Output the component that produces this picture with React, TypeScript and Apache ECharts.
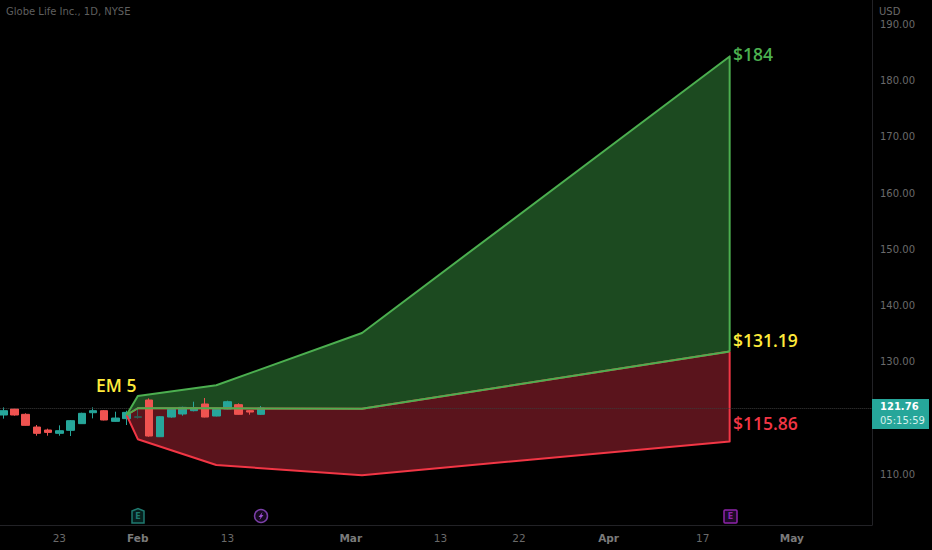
import React, { useEffect, useRef } from "react";
import * as echarts from "echarts";

const tradingDays = [
  "Jan 13", "Jan 17", "Jan 18", "Jan 19", "Jan 20", "Jan 23", "Jan 24", "Jan 25",
  "Jan 26", "Jan 27", "Jan 30", "Jan 31", "Feb 1", "Feb 2", "Feb 3", "Feb 6",
  "Feb 7", "Feb 8", "Feb 9", "Feb 10", "Feb 13", "Feb 14", "Feb 15", "Feb 16",
];
const futureBarCount = 54;
// [open, close, low, high]
const candles = [
  [120.5, 121.27, 119.85, 121.86],
  [121.57, 120.5, 120.38, 121.68],
  [120.62, 118.66, 118.6, 120.8],
  [118.36, 117.24, 116.82, 118.72],
  [117.83, 117.41, 116.82, 118.07],
  [117.24, 117.71, 116.82, 118.66],
  [117.77, 119.49, 116.76, 119.61],
  [118.96, 120.8, 118.9, 120.91],
  [120.91, 121.27, 119.9, 121.86],
  [121.27, 119.61, 119.55, 121.39],
  [119.37, 119.96, 119.31, 121.09],
  [119.85, 120.97, 118.72, 121.27],
  [120.08, 120.2, 119.85, 121.68],
  [123.17, 116.76, 116.64, 123.46],
  [116.64, 120.2, 116.58, 120.32],
  [120.14, 121.51, 120.02, 121.62],
  [120.68, 121.86, 120.38, 121.98],
  [121.27, 121.8, 121.15, 122.87],
  [122.46, 120.14, 120.08, 123.52],
  [120.32, 121.51, 120.26, 121.62],
  [121.57, 122.87, 121.5, 123.05],
  [122.34, 120.62, 120.56, 122.57],
  [121.27, 121.03, 120.56, 121.39],
  [120.62, 121.74, 120.5, 122.1],
];
const emBars = [11, 12, 19, 32, 64.8];
const emUpper = [120.5, 123.9, 125.8, 135.1, 184.3];
const emMiddle = [120.5, 121.7, 121.7, 121.6, 131.8];
const emLower = [120.5, 116.2, 111.6, 109.8, 115.8];
const lastPrice = 121.76;
const countdown = "05:15:59";
const priceTicks = [110, 120, 130, 140, 150, 160, 170, 180, 190];
const timeTickBars = [5, 12, 20, 31, 39, 46, 54, 62.4, 70.35];
const timeTickLabels = ["23", "Feb", "13", "Mar", "13", "22", "Apr", "17", "May"];
const monthLabels = ["Feb", "Mar", "Apr", "May"];
const title = "Globe Life Inc., 1D, NYSE";
const annotations: [number, number, string, string][] = [
  [65.1, 183.1, "$184", "#4caf50"],
  [65.1, 132.2, "$131.19", "#ffeb3b"],
  [65.1, 117.4, "$115.86", "#f23645"],
  [8.27, 124.2, "EM 5", "#ffeb3b"],
];

const FONT = "'DejaVu Sans', sans-serif";
const NOTE_FONT = "'Open Sans', sans-serif";
const GREEN = "#4caf50";
const RED = "#f23645";
const UP = "#26a69a";
const DOWN = "#ef5350";
// The chart is wider than the page, so the first candle's band can start left of the page edge.
const PAD = 20;

function polygonItem(upper: number[], lower: number[], fill: string) {
  return {
    type: "custom",
    xAxisIndex: 1,
    z: 1,
    silent: true,
    data: [0],
    renderItem: (_p: any, api: any) => {
      const pts: number[][] = [];
      emBars.forEach((b, i) => pts.push(api.coord([b, upper[i]])));
      for (let i = emBars.length - 1; i >= 0; i--) pts.push(api.coord([emBars[i], lower[i]]));
      return { type: "polygon", shape: { points: pts }, style: { fill, stroke: "none" } };
    },
  };
}

function edgeItem(line: number[], color: string, closeTo: number[] | null, z: number) {
  return {
    type: "custom",
    xAxisIndex: 1,
    z,
    silent: true,
    data: [0],
    renderItem: (_p: any, api: any) => {
      const pts: number[][] = emBars.map((b, i) => api.coord([b, line[i]]));
      if (closeTo) pts.push(api.coord([emBars[emBars.length - 1], closeTo[closeTo.length - 1]]));
      return {
        type: "polyline",
        shape: { points: pts },
        style: { fill: "none", stroke: color, lineWidth: 2, lineJoin: "round" },
      };
    },
  };
}

export default function App() {
  const ref = useRef<HTMLDivElement>(null);
  useEffect(() => {
    if (!ref.current) return;
    const chart = echarts.init(ref.current, undefined, { renderer: "svg" });
    const categories = [
      ...tradingDays,
      ...Array.from({ length: futureBarCount }, (_, i) => `+${i + 1}`),
    ];
    chart.setOption({
      animation: false,
      backgroundColor: "#000000",
      textStyle: { fontFamily: FONT },
      grid: { left: PAD - 2.3, top: 0, width: 874.3, height: 525, containLabel: false },
      xAxis: [
        {
          type: "category",
          data: categories,
          boundaryGap: true,
          axisLine: { show: false },
          axisTick: { show: false },
          axisLabel: { show: false },
          splitLine: { show: false },
        },
        {
          type: "value",
          position: "bottom",
          min: -0.5,
          max: 77.5,
          axisLine: { show: true, onZero: false, lineStyle: { color: "#222226", width: 1 } },
          axisTick: { show: false },
          splitLine: { show: false },
          axisLabel: {
            show: true,
            customValues: timeTickBars,
            margin: 7,
            fontSize: 10.5,
            color: "#6a6a6a",
            fontFamily: FONT,
            formatter: (v: number) => {
              const label = timeTickLabels[timeTickBars.indexOf(v)] ?? "";
              return monthLabels.includes(label) ? `{m|${label}}` : label;
            },
            rich: { m: { fontSize: 10.5, fontWeight: "bold", color: "#7a7a7a", fontFamily: FONT } },
          },
        },
      ],
      yAxis: {
        type: "value",
        position: "right",
        min: 100.93,
        max: 194.34,
        axisLine: { show: true, onZero: false, lineStyle: { color: "#222226", width: 1 } },
        axisTick: { show: false },
        splitLine: { show: false },
        axisLabel: {
          show: true,
          customValues: priceTicks,
          inside: false,
          margin: 8,
          fontSize: 10,
          color: "#6a6a6a",
          fontFamily: FONT,
          formatter: (v: number) => v.toFixed(2),
        },
      },
      series: [
        polygonItem(emUpper, emMiddle, "#1c4a20"),
        polygonItem(emMiddle, emLower, "#5a141c"),
        {
          type: "candlestick",
          xAxisIndex: 0,
          z: 3,
          barWidth: 8,
          silent: true,
          data: candles.map((c, i) =>
            i === 12
              ? {
                  value: c,
                  itemStyle: { color: "#2f5f56", color0: "#2f5f56", borderColor: "#2f5f56", borderColor0: "#2f5f56" },
                }
              : c
          ),
          itemStyle: { color: UP, color0: DOWN, borderColor: UP, borderColor0: DOWN, borderWidth: 1 },
          markLine: {
            silent: true,
            symbol: "none",
            label: { show: false },
            lineStyle: { color: "#3c3c3c", type: "dotted", width: 1 },
            data: [{ yAxis: lastPrice }],
          },
        },
        edgeItem(emLower, RED, emMiddle, 4),
        edgeItem(emMiddle, RED, null, 4),
        edgeItem(emMiddle, GREEN, null, 5),
        edgeItem(emUpper, GREEN, emMiddle, 5),
        {
          type: "custom",
          xAxisIndex: 1,
          z: 6,
          silent: true,
          data: annotations.map((a, i) => i),
          renderItem: (params: any, api: any) => {
            const [bar, price, text, color] = annotations[params.dataIndex];
            const [x, y] = api.coord([bar, price]);
            return {
              type: "text",
              x,
              y,
              style: { text, fill: color, font: `600 17.5px ${NOTE_FONT}`, textAlign: "left", textVerticalAlign: "bottom" },
            };
          },
        },
        {
          type: "custom",
          xAxisIndex: 1,
          z: 7,
          silent: true,
          clip: false,
          data: [0],
          renderItem: (_p: any, api: any) => {
            const [, y] = api.coord([0, lastPrice]);
            return {
              type: "group",
              children: [
                { type: "rect", shape: { x: PAD + 872, y: y - 9, width: 57, height: 30 }, style: { fill: "#26a69a" } },
                {
                  type: "text",
                  x: PAD + 880,
                  y: y + 6,
                  style: {
                    text: `{p|${lastPrice.toFixed(2)}}\n{c|${countdown}}`,
                    textVerticalAlign: "middle",
                    textAlign: "left",
                    rich: {
                      p: { fill: "#ffffff", fontFamily: FONT, fontSize: 10, fontWeight: "bold", lineHeight: 14 },
                      c: { fill: "#d5f0ec", fontFamily: FONT, fontSize: 10, lineHeight: 14 },
                    },
                  },
                },
              ],
            };
          },
        },
      ],
      graphic: [
        {
          type: "group",
          x: PAD,
          y: 0,
          children: [
            { type: "text", x: 6, y: 6, style: { text: title, fill: "#5f5f5f", font: `10px ${FONT}` } },
            { type: "text", x: 879, y: 6, style: { text: "USD", fill: "#6a6a6a", font: `10px ${FONT}` } },
            {
              type: "polygon",
              shape: { points: [[132, 511], [138, 508.5], [144, 511], [144, 523], [132, 523]] },
              style: { fill: "#06201e", stroke: "#1f7a70", lineWidth: 1.5 },
            },
            { type: "text", x: 138, y: 516, style: { text: "E", fill: "#1f7a70", font: `bold 8px ${FONT}`, textAlign: "center", textVerticalAlign: "middle" } },
            { type: "circle", shape: { cx: 261, cy: 516, r: 6.5 }, style: { fill: "#150a1e", stroke: "#7b3fa8", lineWidth: 1.5 } },
            {
              type: "polygon",
              shape: { points: [[262.5, 512], [258.5, 517], [260.5, 517], [259.5, 520], [263.5, 515], [261.5, 515]] },
              style: { fill: "#9c4fd0" },
            },
            { type: "rect", shape: { x: 724, y: 510, width: 13, height: 13, r: 1 }, style: { fill: "#1d0a26", stroke: "#8e24aa", lineWidth: 1.5 } },
            { type: "text", x: 730.5, y: 516.5, style: { text: "E", fill: "#8e24aa", font: `bold 8px ${FONT}`, textAlign: "center", textVerticalAlign: "middle" } },
          ],
        },
      ],
    });
    return () => chart.dispose();
  }, []);
  return (
    <div style={{ position: "fixed", left: 0, top: 0, width: 932, height: 550, overflow: "hidden", background: "#000" }}>
      <div ref={ref} style={{ position: "absolute", left: -PAD, top: 0, width: 932 + PAD, height: 550 }} />
    </div>
  );
}
